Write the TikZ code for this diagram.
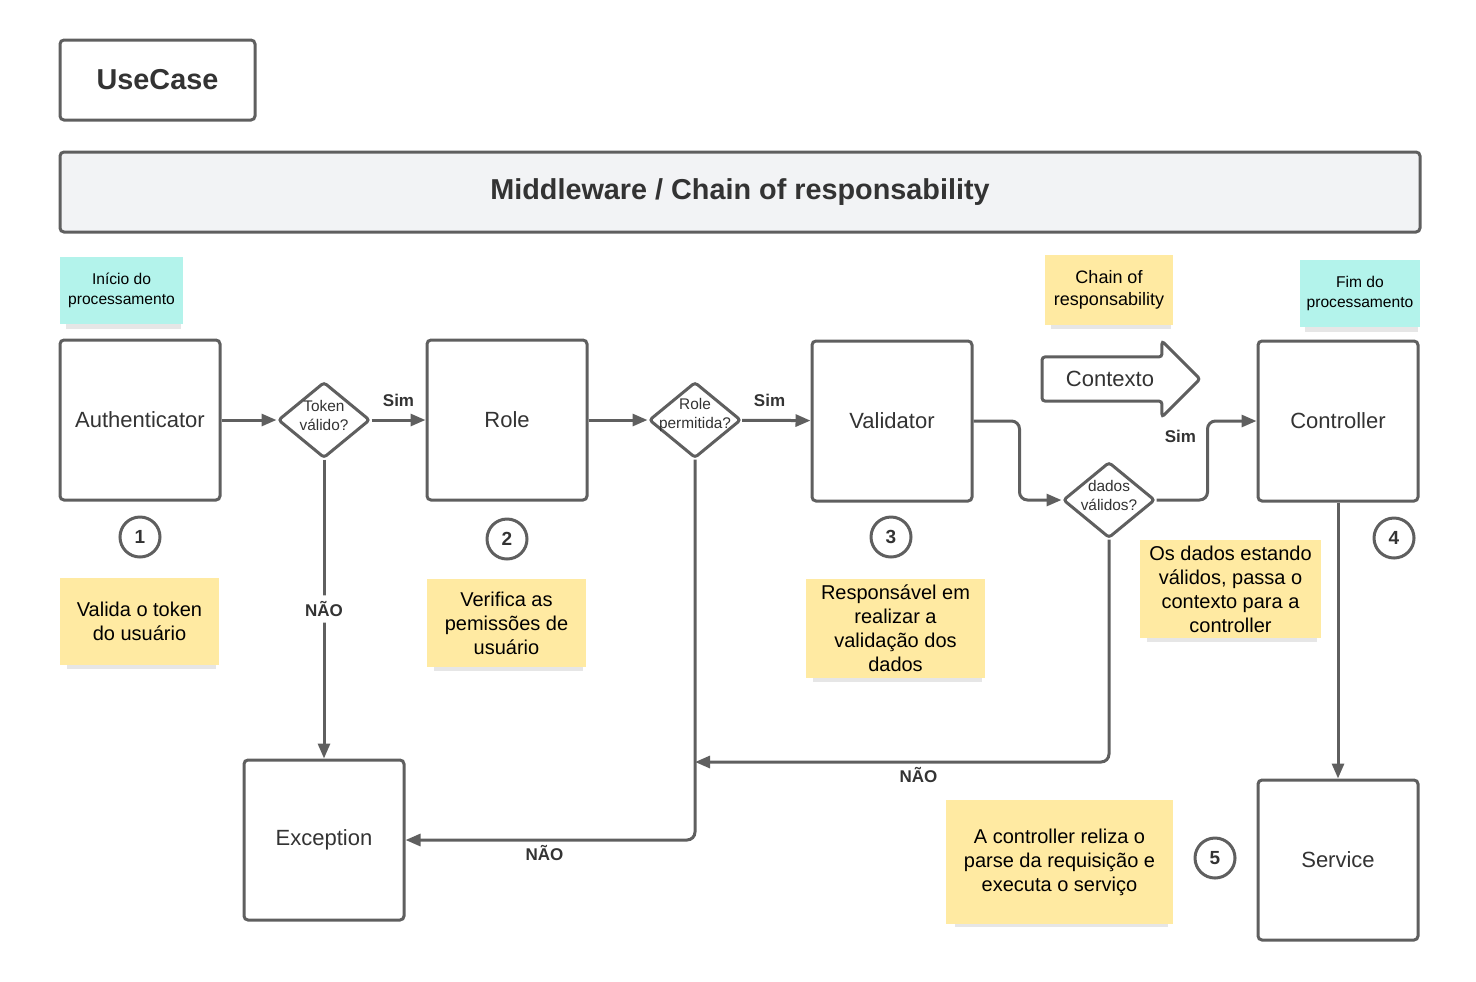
\documentclass[tikz,border=0pt]{standalone}
\usepackage{fontspec}
\setmainfont{Liberation Sans}
\usetikzlibrary{arrows.meta,shapes,shadows}

\definecolor{linegray}{HTML}{5F5F5F}
\definecolor{boxtext}{HTML}{333333}
\definecolor{barfill}{HTML}{F2F3F5}
\definecolor{noteyellow}{HTML}{FFEAA2}
\definecolor{noteteal}{HTML}{B3F3EB}

\begin{document}
\begin{tikzpicture}[x=0.5pt,y=-0.5pt,>={Triangle[length=7.5pt,width=6pt]},line width=1.5pt]
  \tikzstyle{block}=[rectangle,rounded corners=2pt,draw=linegray,fill=white,
        minimum size=80pt,text=boxtext,font=\fontsize{11}{13}\selectfont]
  \tikzstyle{decision}=[diamond,rounded corners=1.5pt,draw=linegray,fill=white,
        minimum width=46pt,minimum height=38pt,inner sep=0pt]
  \tikzstyle{dtext}=[align=center,text=boxtext,yshift=2.5pt,font=\fontsize{7.7}{9.5}\selectfont]
  \tikzstyle{note}=[rectangle,fill=noteyellow,align=center,inner sep=0pt,
        font=\fontsize{10}{12}\selectfont,
        drop shadow={shadow xshift=1pt,shadow yshift=-3.5pt,shadow scale=0.94,opacity=.2}]
  \tikzstyle{tag}=[note,fill=noteteal,font=\fontsize{7.8}{9.8}\selectfont]
  \tikzstyle{stepnum}=[circle,draw=linegray,minimum size=20pt,inner sep=0pt,
        text=boxtext,font=\fontsize{9.5}{11}\selectfont\bfseries]
  \tikzstyle{answer}=[inner sep=1pt,text=boxtext,font=\fontsize{8.5}{10}\selectfont\bfseries]
  \tikzstyle{flow}=[->,draw=linegray,rounded corners=4pt]
  \useasboundingbox (0,0) rectangle (1476,981);

    \node [block,minimum width=97.5pt,minimum height=40pt,font=\fontsize{14.4}{16}\selectfont\bfseries] (uc) at (157.5,80) {UseCase};
    \node [block,fill=barfill,minimum width=680pt,minimum height=40pt,font=\fontsize{14.4}{16}\selectfont\bfseries] (mw) at (740,192) {Middleware / Chain of responsability};

    \node [tag,minimum width=61.5pt,minimum height=33.5pt] (start) at (121.5,290.5) {Início do\\processamento};
    \node [note,minimum width=64pt,minimum height=35pt,font=\fontsize{9}{11}\selectfont] (cor) at (1109,290) {Chain of\\responsability};
    \node [tag,minimum width=60pt,minimum height=33.5pt] (end) at (1360,293.5) {Fim do\\processamento};

    \node [block] (auth) at (140,420) {Authenticator};
    \node [decision,label={[dtext]center:Token\\válido?}] (d1) at (324,420) {};
    \node [block] (role) at (507,420) {Role};
    \node [decision,label={[dtext]center:Role\\permitida?}] (d2) at (695,420) {};
    \node [block] (valid) at (892,421) {Validator};
    \node [decision,label={[dtext]center:dados\\válidos?}] (d3) at (1109,500) {};
    \node [block] (ctrl) at (1338,421) {Controller};
    \node [block] (exc) at (324,840) {Exception};
    \node [block] (serv) at (1338,860) {Service};

    \node [single arrow,draw=linegray,fill=white,rounded corners=1.5pt,minimum height=79pt,
        single arrow head extend=8pt,inner ysep=6.4pt,text=boxtext,font=\fontsize{11}{13}\selectfont] (ctx) at (1110,379) {Contexto};

    \node [stepnum] (s1) at (140,537) {1};
    \node [stepnum] (s2) at (507,539) {2};
    \node [stepnum] (s3) at (891,537) {3};
    \node [stepnum] (s4) at (1394,538) {4};
    \node [stepnum] (s5) at (1215,858) {5};

    \node [note,minimum width=79.5pt,minimum height=43.5pt] (n1) at (139.5,621.5) {Valida o token\\do usuário};
    \node [note,minimum width=79.5pt,minimum height=44pt] (n2) at (506.5,623) {Verifica as\\pemissões de\\usuário};
    \node [note,minimum width=89.5pt,minimum height=49.5pt] (n3) at (895.5,628.5) {Responsável em\\realizar a\\validação dos\\dados};
    \node [note,minimum width=90.5pt,minimum height=49pt] (n4) at (1230.5,589) {Os dados estando\\válidos, passa o\\contexto para a\\controller};
    \node [note,minimum width=113.5pt,minimum height=62pt] (n5) at (1059.5,862) {A controller reliza o\\parse da requisição e\\executa o serviço};

    \draw [flow] (auth) -- (d1);
    \draw [flow] (d1) -- node [answer,above=5pt] {Sim} (role);
    \draw [flow] (d1) -- node [answer,fill=white,inner sep=3pt] {NÃO} (exc);
    \draw [flow] (role) -- (d2);
    \draw [flow] (d2) -- node [answer,above=5pt,pos=0.4] {Sim} (valid);
    \draw [flow] (d2.south) |- node [answer,below=1pt,pos=0.76] {NÃO} (exc.east);
    \draw [flow] (valid.east) -- ++(46,0) |- (d3.west);
    \draw [flow] (d3.east) -- ++(51,0) |- node [answer,left=4pt,pos=0.4] {Sim} (ctrl.west);
    \coordinate (merge) at (d2.south |- 0,762);
    \draw [flow] (d3.south) |- node [answer,below=1pt,pos=0.73] {NÃO} (merge);
    \draw [flow] (ctrl) -- (serv);

\end{tikzpicture}
\end{document}
